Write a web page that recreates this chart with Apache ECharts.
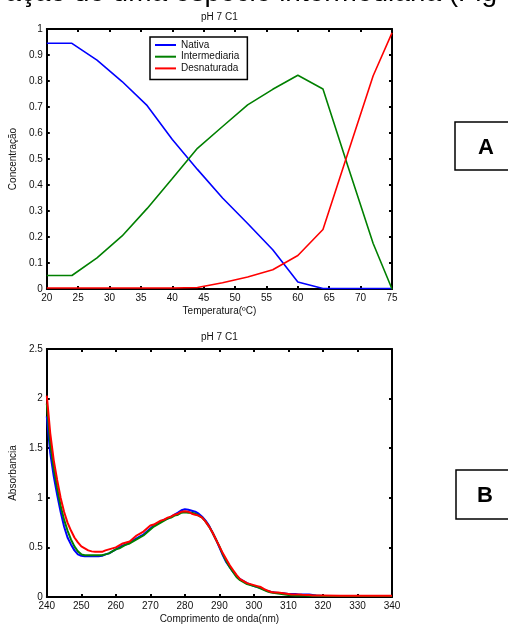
<!DOCTYPE html>
<html>
<head>
<meta charset="utf-8">
<script src="https://cdn.jsdelivr.net/npm/echarts@6.0.0/dist/echarts.min.js"></script>
<style>
  html, body { margin: 0; padding: 0; background: #fff; }
  #main { width: 508px; height: 625px; }
</style>
</head>
<body>
<div id="main"></div>
<script>
// dados - grafico A (concentracao x temperatura)
var temperatura = [20, 24, 28, 32, 36, 40, 44, 48, 52, 56, 60, 64, 68, 72, 75];
var nativa = [0.945, 0.945, 0.88, 0.798, 0.705, 0.575, 0.46, 0.35, 0.252, 0.151, 0.027, 0.002, 0.002, 0.002, 0.002];
var intermediaria = [0.052, 0.052, 0.12, 0.204, 0.31, 0.425, 0.541, 0.625, 0.708, 0.768, 0.822, 0.769, 0.47, 0.175, 0.0];
var desnaturada = [0.004, 0.004, 0.004, 0.004, 0.004, 0.004, 0.006, 0.024, 0.046, 0.074, 0.129, 0.229, 0.525, 0.82, 0.985];

// dados - grafico B (absorbancia x comprimento de onda)
var comprimento = [240, 241, 242, 243, 244, 245, 246, 247, 248, 249, 250, 251, 252, 253, 254, 255, 256, 257, 258, 259,
  260, 261, 262, 263, 264, 265, 266, 267, 268, 269, 270, 271, 272, 273, 274, 275, 276, 277, 278, 279,
  280, 281, 282, 283, 284, 285, 286, 287, 288, 289, 290, 291, 292, 293, 294, 295, 296, 297, 298, 299,
  300, 301, 302, 303, 304, 305, 306, 307, 308, 309, 310, 311, 312, 313, 314, 315, 316, 317, 318,
  320, 325, 330, 335, 340];
var absNativa = [1.82, 1.45, 1.22, 1.03, 0.86, 0.71, 0.6, 0.53, 0.47, 0.43, 0.415, 0.41, 0.41, 0.41, 0.41, 0.41, 0.415, 0.43, 0.44, 0.46,
  0.48, 0.5, 0.52, 0.53, 0.55, 0.57, 0.59, 0.61, 0.63, 0.66, 0.69, 0.72, 0.74, 0.76, 0.78, 0.79, 0.81, 0.83, 0.85, 0.875,
  0.885, 0.88, 0.87, 0.86, 0.84, 0.81, 0.77, 0.72, 0.65, 0.58, 0.5, 0.42, 0.35, 0.3, 0.25, 0.21, 0.18, 0.16, 0.14, 0.125,
  0.11, 0.1, 0.09, 0.075, 0.06, 0.05, 0.045, 0.04, 0.04, 0.035, 0.03, 0.03, 0.03, 0.025, 0.025, 0.025, 0.025, 0.02, 0.015,
  0.01, 0.01, 0.01, 0.01, 0.01];
var absIntermediaria = [1.95, 1.55, 1.3, 1.1, 0.92, 0.78, 0.67, 0.58, 0.51, 0.46, 0.43, 0.42, 0.42, 0.42, 0.42, 0.42, 0.42, 0.43, 0.44, 0.46,
  0.48, 0.49, 0.51, 0.53, 0.54, 0.56, 0.58, 0.6, 0.62, 0.65, 0.68, 0.71, 0.73, 0.75, 0.77, 0.79, 0.8, 0.82, 0.83, 0.85,
  0.855, 0.85, 0.85, 0.84, 0.82, 0.8, 0.76, 0.71, 0.65, 0.58, 0.51, 0.43, 0.36, 0.3, 0.25, 0.2, 0.17, 0.15, 0.13, 0.12,
  0.11, 0.1, 0.085, 0.07, 0.055, 0.045, 0.04, 0.035, 0.03, 0.025, 0.02, 0.018, 0.016, 0.015, 0.015, 0.014, 0.013, 0.012, 0.012,
  0.011, 0.01, 0.01, 0.01, 0.01];
var absDesnaturada = [2.03, 1.65, 1.38, 1.18, 1.0, 0.86, 0.75, 0.67, 0.6, 0.55, 0.51, 0.49, 0.47, 0.46, 0.455, 0.455, 0.455, 0.47, 0.48, 0.49,
  0.5, 0.52, 0.54, 0.55, 0.56, 0.59, 0.62, 0.64, 0.66, 0.69, 0.72, 0.73, 0.75, 0.77, 0.78, 0.8, 0.81, 0.83, 0.84, 0.86,
  0.865, 0.86, 0.84, 0.83, 0.82, 0.8, 0.76, 0.71, 0.65, 0.58, 0.51, 0.44, 0.38, 0.32, 0.27, 0.22, 0.18, 0.16, 0.14, 0.13,
  0.12, 0.11, 0.1, 0.08, 0.065, 0.05, 0.045, 0.045, 0.04, 0.035, 0.03, 0.025, 0.025, 0.025, 0.022, 0.02, 0.02, 0.015, 0.015,
  0.015, 0.013, 0.012, 0.012, 0.012];

var nomes = ['Nativa', 'Intermediaria', 'Desnaturada'];
var cores = ['#0000ff', '#008000', '#ff0000'];

var fonte = "'Liberation Sans', Arial, sans-serif";

function pares(xs, ys) {
  return xs.map(function (x, i) {
    return [x, ys[i]];
  });
}

// eixo com ticks para dentro (estilo matlab)
function eixo(grid, pos, min, max, intervalo, rotulo, nome, gap) {
  var e = {
    type: 'value',
    gridIndex: grid,
    position: pos,
    min: min,
    max: max,
    interval: intervalo,
    splitLine: {show: false},
    axisLine: {show: true, onZero: false, lineStyle: {color: '#000', width: 2}},
    axisTick: {show: true, inside: true, length: 3, lineStyle: {color: '#000', width: 2}},
    axisLabel: {show: rotulo, color: '#111', fontSize: 10, fontFamily: fonte, margin: 4}
  };
  if (nome) {
    e.name = nome;
    e.nameLocation = 'middle';
    e.nameGap = gap;
    e.nameTextStyle = {color: '#111', fontSize: 10, fontFamily: fonte};
  }
  return e;
}

var chart = echarts.init(document.getElementById('main'));
var option = {
  animation: false,
  backgroundColor: '#fff',
  grid: [
    {left: 44, width: 348, top: 29, height: 260},
    {left: 44, width: 348, top: 349, height: 251}
  ],
  xAxis: [
    eixo(0, 'bottom', 20, 75, 5, true, 'Temperatura(ºC)', 17),
    eixo(0, 'top', 20, 75, 5, false, 'pH 7 C1', 7),
    eixo(1, 'bottom', 240, 340, 10, true, 'Comprimento de onda(nm)', 17),
    eixo(1, 'top', 240, 340, 10, false, 'pH 7 C1', 7)
  ],
  yAxis: [
    eixo(0, 'left', 0, 1, 0.1, true, 'Concentração', 25),
    eixo(0, 'right', 0, 1, 0.1, false),
    eixo(1, 'left', 0, 2.5, 0.5, true, 'Absorbancia', 24),
    eixo(1, 'right', 0, 2.5, 0.5, false)
  ],
  legend: {
    data: nomes,
    orient: 'vertical',
    left: 150,
    top: 37,
    padding: [3, 8, 6, 5],
    itemGap: 1.7,
    icon: 'rect',
    itemWidth: 21,
    itemHeight: 2,
    borderColor: '#000',
    borderWidth: 1.5,
    backgroundColor: '#fff',
    textStyle: {color: '#111', fontSize: 10, fontFamily: fonte, lineHeight: 10}
  },
  graphic: [
    // texto cortado no topo
    {type: 'text', x: 497, y: -21, style: {text: 'ação de uma espécie intermediária (Fig', fill: '#000', font: '28px ' + fonte, textAlign: 'right', textVerticalAlign: 'top'}},
    {type: 'rect', shape: {x: 455, y: 122, width: 60, height: 48}, style: {fill: '#fff', stroke: '#000', lineWidth: 1.5}},
    {type: 'text', x: 486, y: 148, style: {text: 'A', fill: '#000', font: 'bold 22px ' + fonte, textAlign: 'center', textVerticalAlign: 'middle'}},
    {type: 'rect', shape: {x: 456, y: 470, width: 60, height: 49}, style: {fill: '#fff', stroke: '#000', lineWidth: 1.5}},
    {type: 'text', x: 485, y: 496, style: {text: 'B', fill: '#000', font: 'bold 22px ' + fonte, textAlign: 'center', textVerticalAlign: 'middle'}}
  ],
  series: []
};

// series do grafico A
[nativa, intermediaria, desnaturada].forEach(function (ys, i) {
  option.series.push({
    name: nomes[i],
    type: 'line',
    xAxisIndex: 0,
    yAxisIndex: 0,
    symbol: 'none',
    color: cores[i],
    lineStyle: {width: 1.6, color: cores[i]},
    data: pares(temperatura, ys)
  });
});

// series do grafico B
[absNativa, absIntermediaria, absDesnaturada].forEach(function (ys, i) {
  option.series.push({
    name: nomes[i],
    type: 'line',
    xAxisIndex: 2,
    yAxisIndex: 2,
    symbol: 'none',
    color: cores[i],
    lineStyle: {width: 2, color: cores[i]},
    data: pares(comprimento, ys)
  });
});

chart.setOption(option);
</script>
</body>
</html>
